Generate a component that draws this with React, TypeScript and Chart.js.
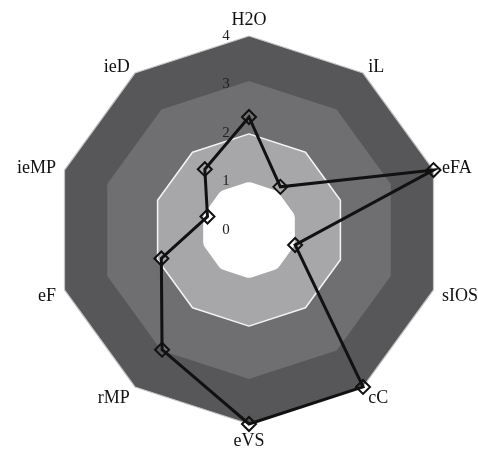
import React, { useEffect, useRef } from "react";
import { Chart, registerables } from "chart.js";

Chart.register(...registerables);

const categories = ["H2O", "iL", "eFA", "sIOS", "cC", "eVS", "rMP", "eF", "ieMP", "ieD"];
const values = [2.33, 1.1, 4.0, 1.0, 4.0, 4.0, 3.05, 1.9, 0.9, 1.55];
const tickLabels = ["0", "1", "2", "3", "4"];
const tickValues = [0, 1, 2, 3, 4];
const bandLevels = [4, 3.03, 1.92, 0.82];
const bandColors = ["#575759", "#6f6f71", "#a7a7a9", "#ffffff"];

const bandsPlugin = {
  id: "bands",
  beforeDatasetsDraw(chart: any) {
    const scale = chart.scales.r;
    const ctx = chart.ctx;
    const n = categories.length;
    const poly = (d: number) => {
      ctx.beginPath();
      for (let i = 0; i < n; i++) {
        const p = scale.getPointPosition(i, d);
        if (i === 0) ctx.moveTo(p.x, p.y);
        else ctx.lineTo(p.x, p.y);
      }
      ctx.closePath();
    };
    ctx.save();
    ctx.lineJoin = "round";
    bandLevels.forEach((lvl, bi) => {
      const d = scale.getDistanceFromCenterForValue(lvl);
      poly(d);
      ctx.fillStyle = bandColors[bi];
      ctx.fill();
      if (bi === 0) {
        ctx.strokeStyle = "#c4c4c4";
        ctx.lineWidth = 1.2;
        ctx.stroke();
      } else if (bi === 1) {
        ctx.strokeStyle = bandColors[bi];
        ctx.lineWidth = 4;
        ctx.stroke();
      } else if (bi === 2) {
        ctx.strokeStyle = bandColors[bi];
        ctx.lineWidth = 6;
        ctx.stroke();
        ctx.strokeStyle = "#f4f4f4";
        ctx.lineWidth = 1.5;
        poly(d + 3);
        ctx.stroke();
      } else {
        ctx.strokeStyle = bandColors[bi];
        ctx.lineWidth = 16;
        ctx.stroke();
      }
    });
    ctx.font = "15px 'Liberation Serif', serif";
    ctx.fillStyle = "#222";
    ctx.textAlign = "center";
    ctx.textBaseline = "middle";
    tickValues.forEach((v, i) => {
      const d = scale.getDistanceFromCenterForValue(v);
      ctx.fillText(tickLabels[i], scale.xCenter - 23, scale.yCenter - d);
    });
    ctx.restore();
  },
  afterDraw(chart: any) {
    const scale = chart.scales.r;
    const ctx = chart.ctx;
    const n = categories.length;
    const R = scale.drawingArea;
    ctx.save();
    ctx.font = "18px 'Liberation Serif', serif";
    ctx.fillStyle = "#111";
    for (let i = 0; i < n; i++) {
      const p = scale.getPointPosition(i, R + 9);
      const dx = p.x - scale.xCenter;
      const dy = p.y - scale.yCenter;
      let align: CanvasTextAlign = "center";
      if (dx > 5) align = "left";
      else if (dx < -5) align = "right";
      let base: CanvasTextBaseline = "middle";
      let y = p.y;
      if (Math.abs(dx) <= 5) {
        if (dy < 0) { base = "bottom"; y = p.y + 2; }
        else { base = "top"; y = p.y - 1; }
      } else {
        y = p.y + (dy > 0 ? 4 : 1);
      }
      ctx.textAlign = align;
      ctx.textBaseline = base;
      ctx.fillText(categories[i], p.x, y);
    }
    ctx.restore();
  },
};

export default function App() {
  const ref = useRef<HTMLCanvasElement | null>(null);
  useEffect(() => {
    if (!ref.current) return;
    const chart = new Chart(ref.current, {
      type: "radar",
      data: {
        labels: categories,
        datasets: [
          {
            data: values,
            borderColor: "#111",
            borderWidth: 3,
            fill: false,
            pointStyle: "rectRot",
            pointRadius: 7,
            pointBorderWidth: 2,
            pointBorderColor: "#111",
            pointBackgroundColor: "rgba(0,0,0,0)",
          },
        ],
      },
      options: {
        responsive: false,
        animation: false,
        layout: { padding: { left: 55, right: 35, top: 36, bottom: 26 } },
        plugins: { legend: { display: false }, tooltip: { enabled: false } },
        scales: {
          r: {
            min: 0,
            max: 4,
            ticks: { display: false, stepSize: 1 },
            grid: { display: false },
            angleLines: { display: false },
            pointLabels: { display: false },
          },
        },
      },
      plugins: [bandsPlugin],
    });
    return () => chart.destroy();
  }, []);
  return (
    <div style={{ position: "absolute", left: 0, top: 0, width: 478, height: 450, background: "#fff" }}>
      <canvas ref={ref} width={478} height={450} />
    </div>
  );
}
